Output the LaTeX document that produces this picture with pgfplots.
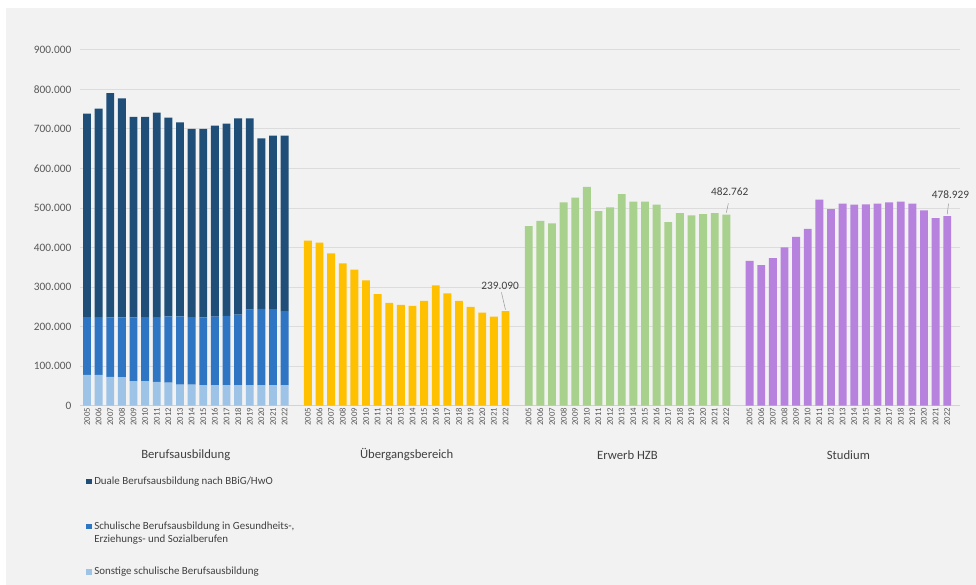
\documentclass[border=0pt]{standalone}
\usepackage{fontspec}
\setmainfont{Carlito}
\usepackage{pgfplots}
\pgfplotsset{compat=1.18}
\usepackage{pgfplotstable}

\definecolor{dunkel}{HTML}{1F4E79}
\definecolor{mittel}{HTML}{2E75C4}
\definecolor{hell}{HTML}{9DC3E6}
\definecolor{gelb}{HTML}{FFC000}
\definecolor{gruen}{HTML}{A9D18E}
\definecolor{lila}{HTML}{B682DE}
\definecolor{bg}{HTML}{F2F2F2}
\definecolor{gridc}{HTML}{DCDCDC}
\definecolor{axisc}{HTML}{F4C9A8}
\definecolor{tgray}{HTML}{595959}
\definecolor{tdark}{HTML}{404040}

\pgfplotstableread{
x sonst ges dual
0  78000 146000 514000
1  78000 146000 527000
2  73000 150000 567000
3  72000 151000 554000
4  62000 161000 507000
5  62000 162000 506000
6  60000 164000 517000
7  58000 168000 502000
8  53000 173000 490000
9  53000 171000 476000
10 52000 171000 477000
11 52000 173000 483000
12 52000 175000 486000
13 52000 178000 496000
14 52000 191000 483000
15 52000 193000 431000
16 51000 193000 439000
17 51000 188000 444000
}\berufs

\pgfplotstableread{
x y
19 417000
20 412000
21 385000
22 360000
23 344000
24 317000
25 282000
26 260000
27 255000
28 252000
29 265000
30 304000
31 284000
32 265000
33 250000
34 235000
35 225000
36 239090
}\uebergang

\pgfplotstableread{
x y
38 454000
39 467000
40 461000
41 514000
42 526000
43 553000
44 492000
45 501000
46 535000
47 516000
48 516000
49 508000
50 464000
51 487000
52 481000
53 484000
54 487000
55 482762
}\hzb

\pgfplotstableread{
x y
57 366000
58 355000
59 373000
60 400000
61 427000
62 447000
63 521000
64 497000
65 511000
66 508000
67 509000
68 511000
69 514000
70 516000
71 511000
72 494000
73 474000
74 478929
}\studium

\pgfplotsset{
  common/.style={
    at={(60pt,134.5pt)}, anchor=south west,
    scale only axis, width=660pt, height=267pt,
    xmin=-0.6, xmax=75.1, ymin=0, ymax=900000,
    enlargelimits=false, clip=false,
  }
}

\begin{document}
\begin{tikzpicture}
\useasboundingbox (0,0) rectangle (732pt,438.75pt);
\fill[white] (0,0) rectangle (732pt,438.75pt);
\fill[bg] (4.5pt,0) rectangle (732pt,432.75pt);

\begin{axis}[common,
  ybar stacked, bar width=0.68,
  axis lines*=left,
  y axis line style={draw=none},
  x axis line style={draw=axisc, line width=0.6pt},
  major tick length=0pt,
  ymajorgrids, grid style={gridc, line width=0.5pt},
  ytick={0,100000,200000,300000,400000,500000,600000,700000,800000,900000},
  scaled y ticks=false,
  yticklabel style={/pgf/number format/fixed, /pgf/number format/1000 sep={.}, /pgf/number format/assume math mode=true,
    font=\fontsize{8.5}{10}\selectfont, text=tgray, xshift=-3pt},
  xtick={0,1,2,3,4,5,6,7,8,9,10,11,12,13,14,15,16,17,
         19,20,21,22,23,24,25,26,27,28,29,30,31,32,33,34,35,36,
         38,39,40,41,42,43,44,45,46,47,48,49,50,51,52,53,54,55,
         57,58,59,60,61,62,63,64,65,66,67,68,69,70,71,72,73,74},
  xticklabels={2005,2006,2007,2008,2009,2010,2011,2012,2013,2014,2015,2016,2017,2018,2019,2020,2021,2022,
               2005,2006,2007,2008,2009,2010,2011,2012,2013,2014,2015,2016,2017,2018,2019,2020,2021,2022,
               2005,2006,2007,2008,2009,2010,2011,2012,2013,2014,2015,2016,2017,2018,2019,2020,2021,2022,
               2005,2006,2007,2008,2009,2010,2011,2012,2013,2014,2015,2016,2017,2018,2019,2020,2021,2022},
  xticklabel style={rotate=90, anchor=east, font=\fontsize{6.5}{7}\selectfont, text=tgray, inner sep=1.5pt},
  reverse legend,
  legend cell align=left,
  legend image code/.code={\fill[#1] (0pt,0pt) rectangle (4pt,4pt);},
  legend style={at={(rel axis cs:0,0)}, anchor=north west, xshift=1.5pt, yshift=-48pt,
    draw=none, fill=none, font=\fontsize{8.2}{9.5}\selectfont, text=tdark,
    cells={anchor=base west}, row sep=21.8pt},
]
\addplot[fill=hell, draw=none] table[x=x, y=sonst]{\berufs};
\addlegendentry{\begin{tabular}[t]{@{}l@{}}Sonstige schulische Berufsausbildung\\ \mbox{}\end{tabular}}
\addplot[fill=mittel, draw=none] table[x=x, y=ges]{\berufs};
\addlegendentry{\begin{tabular}[t]{@{}l@{}}Schulische Berufsausbildung in Gesundheits-,\\ Erziehungs- und Sozialberufen\end{tabular}}
\addplot[fill=dunkel, draw=none] table[x=x, y=dual]{\berufs};
\addlegendentry{\begin{tabular}[t]{@{}l@{}}Duale Berufsausbildung nach BBiG/HwO\\ \mbox{}\end{tabular}}

\node[font=\fontsize{9.5}{11}\selectfont, text=tdark] at ([yshift=-37pt]axis cs:8.5,0) {Berufsausbildung};
\node[font=\fontsize{9.5}{11}\selectfont, text=tdark] at ([yshift=-37pt]axis cs:27.5,0) {Übergangsbereich};
\node[font=\fontsize{9.5}{11}\selectfont, text=tdark] at ([yshift=-37pt]axis cs:46.5,0) {Erwerb HZB};
\node[font=\fontsize{9.5}{11}\selectfont, text=tdark] at ([yshift=-37pt]axis cs:65.5,0) {Studium};
\end{axis}

\begin{axis}[common, hide axis]
\addplot[ybar, bar width=0.68, fill=gelb, draw=none] table[x=x, y=y]{\uebergang};
\addplot[ybar, bar width=0.68, fill=gruen, draw=none] table[x=x, y=y]{\hzb};
\addplot[ybar, bar width=0.68, fill=lila, draw=none] table[x=x, y=y]{\studium};

\draw[gray!80, line width=0.4pt] ([yshift=1pt]axis cs:36,239090) -- ++(-3pt,13pt);
\node[font=\fontsize{8.5}{10}\selectfont, text=tdark] at ([xshift=-4pt, yshift=19pt]axis cs:36,239090) {239.090};
\draw[gray!80, line width=0.4pt] ([yshift=1.5pt]axis cs:55,482762) -- ++(1.5pt,7pt);
\node[font=\fontsize{8.5}{10}\selectfont, text=tdark] at ([xshift=2.5pt, yshift=17pt]axis cs:55,482762) {482.762};
\draw[gray!80, line width=0.4pt] ([yshift=1.5pt]axis cs:74,478929) -- ++(1pt,8pt);
\node[font=\fontsize{8.5}{10}\selectfont, text=tdark] at ([xshift=2.5pt, yshift=16.5pt]axis cs:74,478929) {478.929};
\end{axis}
\end{tikzpicture}
\end{document}
